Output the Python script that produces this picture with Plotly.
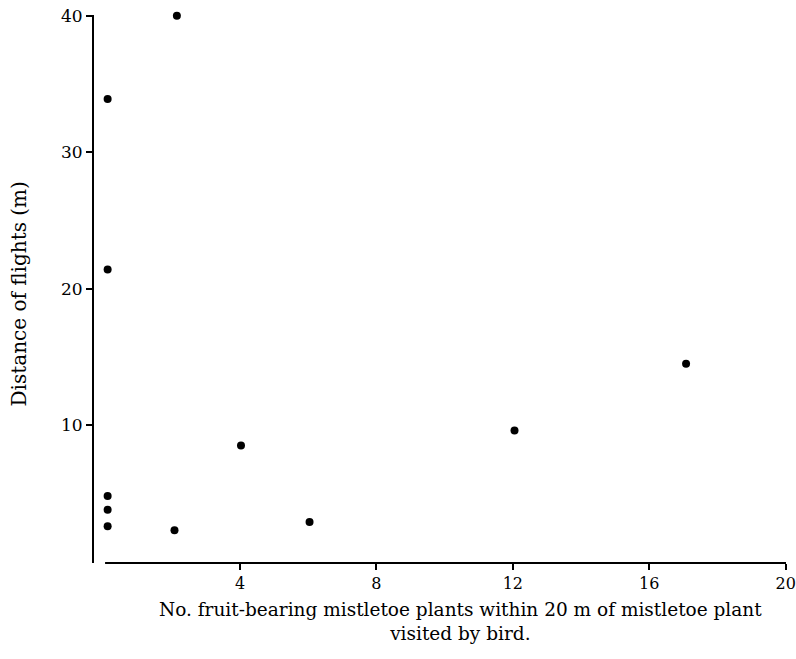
import plotly.graph_objects as go

# Data
n_plants = [2.15, 0.12, 0.12, 0.12, 0.12, 0.12, 2.08, 4.03, 6.04, 12.05, 17.08]
distance = [40.0, 33.9, 21.4, 4.8, 3.8, 2.6, 2.3, 8.5, 2.9, 9.6, 14.5]

x_ticks = [4, 8, 12, 16, 20]
y_ticks = [10, 20, 30, 40]

font_family = "DejaVu Serif"

fig = go.Figure()
fig.add_trace(go.Scatter(
    x=n_plants, y=distance, mode="markers",
    marker=dict(color="black", size=8),
    showlegend=False, cliponaxis=False,
))

fig.update_layout(
    width=796, height=659,
    margin=dict(l=94, r=10, t=15, b=96, autoexpand=False),
    paper_bgcolor="white", plot_bgcolor="white",
    font=dict(family=font_family, color="black", size=16),
    xaxis=dict(
        range=[-0.28, 20.01], tickvals=x_ticks, ticktext=[str(v) for v in x_ticks],
        showgrid=False, zeroline=False, showline=False, automargin=False,
        ticks="outside", ticklen=6, tickwidth=1.5, tickcolor="black",
        tickfont=dict(size=16), ticklabeloverflow="allow",
    ),
    yaxis=dict(
        range=[-0.1, 40.05], tickvals=y_ticks, ticktext=[str(v) for v in y_ticks],
        showgrid=False, zeroline=False, showline=True, linecolor="black", linewidth=2,
        ticks="outside", ticklen=6, tickwidth=1.5, tickcolor="black", automargin=False,
        tickfont=dict(size=17), ticklabeloverflow="allow",
    ),
    shapes=[
        dict(type="line", xref="paper", yref="paper", x0=0.016, x1=1.0, y0=0, y1=0,
             line=dict(color="black", width=2)),
    ],
    annotations=[
        dict(text="No. fruit-bearing mistletoe plants within 20 m of mistletoe plant<br>visited by bird.",
             xref="paper", yref="paper", x=0.53, y=-0.062, xanchor="center", yanchor="top",
             showarrow=False, font=dict(size=18.5), align="center"),
        dict(text="Distance of flights (m)", xref="paper", yref="paper",
             x=-0.109, y=0.491, xanchor="center", yanchor="middle", textangle=-90,
             showarrow=False, font=dict(size=20)),
    ],
)

fig.write_html("out.html")
